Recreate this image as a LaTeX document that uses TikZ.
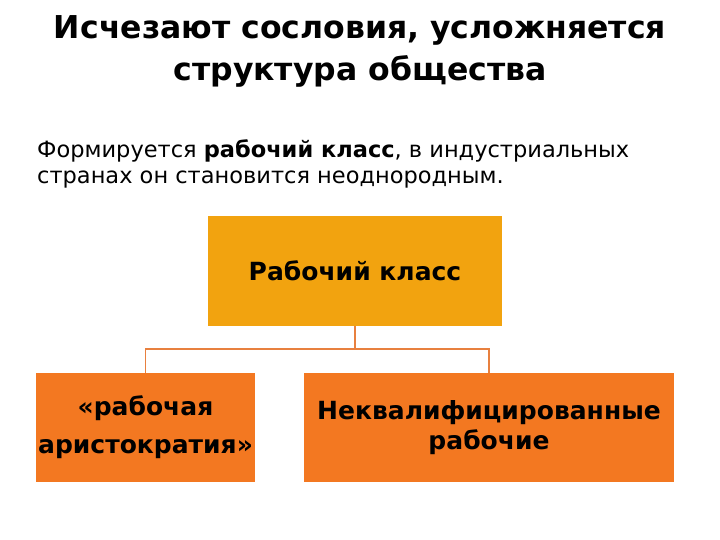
\documentclass[tikz,border=0pt]{standalone}
\usepackage{fontspec}
\setmainfont{DejaVu Sans}
\usepackage{tikz}
\usetikzlibrary{positioning}
\definecolor{amber}{HTML}{F2A30F}
\definecolor{carrot}{HTML}{F37821}
\definecolor{wire}{HTML}{E8803F}
\tikzstyle{topbox} = [rectangle, fill=amber, minimum width=294pt, minimum height=110pt, inner sep=0pt, font=\fontsize{25}{30}\selectfont\bfseries]
\tikzstyle{lowbox} = [rectangle, fill=carrot, minimum height=109pt, inner sep=0pt, align=center, font=\fontsize{25}{38}\selectfont\bfseries]
\tikzstyle{line} = [draw, line width=1.3pt, color=wire, -]
\tikzstyle{title} = [align=center, inner sep=0pt, font=\fontsize{31.5}{42}\selectfont\bfseries]
\tikzstyle{para} = [align=left, inner sep=0pt, anchor=base west, font=\fontsize{22.5}{26}\selectfont]

\begin{document}
\begin{tikzpicture}[x=1pt, y=-1pt]
  \useasboundingbox (0,0) rectangle (720,540);

  \node[title] (head) at (360,51) {Исчезают сословия, усложняется\\структура общества};
  \node[para] (text) at (37,184) {Формируется \textbf{рабочий класс}, в индустриальных\\странах он становится неоднородным.};

  \node[topbox] (klass) at (355,271) {Рабочий класс};
  \node[lowbox, minimum width=219pt] (aristo) at (145.5,427.5) {«рабочая\\аристократия»};
  \node[lowbox, minimum width=370pt, font=\fontsize{25}{30}\selectfont\bfseries] (unskilled) at (489,427.5) {Неквалифицированные\\рабочие};

  \coordinate (fork) at (355,349);
  \path[line] (klass) -- (fork);
  \path[line] (fork) -| (aristo);
  \path[line] (fork) -| (unskilled);

\end{tikzpicture}
\end{document}
